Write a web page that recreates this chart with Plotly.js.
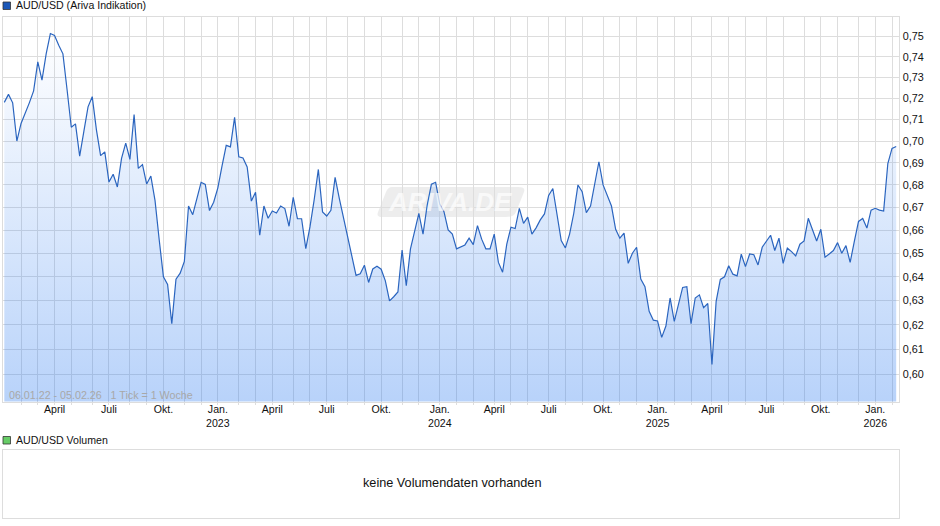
<!DOCTYPE html>
<html>
<head>
<meta charset="utf-8">
<script src="https://cdn.plot.ly/plotly-3.0.1.min.js"></script>
<style>html,body{margin:0;padding:0;background:#fff;overflow:hidden}</style>
</head>
<body>
<div id="chart" style="width:940px;height:526px"></div>
<script>
// Weekly AUD/USD close, first value 2022-01-06, last value 2026-02-05
const firstWeek = '2022-01-06';
const priceValues = [
0.7181,0.7219,0.7179,0.7000,0.7082,0.7129,0.7180,0.7236,0.7376,0.7287,
0.7415,0.7515,0.7505,0.7457,0.7415,0.7240,0.7064,0.7080,0.6931,0.7045,
0.7160,0.7208,0.7052,0.6933,0.6950,0.6813,0.6848,0.6791,0.6920,0.6990,
0.6916,0.7123,0.6875,0.6892,0.6804,0.6840,0.6730,0.6557,0.6400,0.6368,
0.6205,0.6390,0.6415,0.6465,0.6706,0.6668,0.6745,0.6812,0.6802,0.6686,
0.6723,0.6787,0.6886,0.6980,0.6973,0.7110,0.6928,0.6922,0.6881,0.6728,
0.6767,0.6578,0.6706,0.6652,0.6684,0.6675,0.6706,0.6695,0.6617,0.6745,
0.6650,0.6650,0.6520,0.6614,0.6733,0.6870,0.6680,0.6662,0.6687,0.6834,
0.6740,0.6657,0.6561,0.6494,0.6406,0.6413,0.6449,0.6376,0.6433,0.6445,
0.6432,0.6383,0.6299,0.6316,0.6336,0.6514,0.6362,0.6519,0.6594,0.6674,
0.6583,0.6710,0.6803,0.6812,0.6715,0.6681,0.6601,0.6583,0.6519,0.6529,
0.6536,0.6565,0.6537,0.6620,0.6561,0.6519,0.6519,0.6583,0.6461,0.6419,
0.6539,0.6613,0.6607,0.6696,0.6630,0.6657,0.6583,0.6610,0.6645,0.6671,
0.6753,0.6784,0.6674,0.6555,0.6523,0.6583,0.6674,0.6800,0.6770,0.6677,
0.6706,0.6807,0.6905,0.6800,0.6755,0.6706,0.6604,0.6565,0.6587,0.6457,
0.6500,0.6526,0.6390,0.6358,0.6256,0.6219,0.6216,0.6149,0.6195,0.6311,
0.6214,0.6280,0.6355,0.6358,0.6205,0.6311,0.6324,0.6271,0.6288,0.6040,
0.6297,0.6389,0.6400,0.6447,0.6411,0.6404,0.6496,0.6443,0.6497,0.6494,
0.6450,0.6526,0.6551,0.6578,0.6512,0.6565,0.6457,0.6522,0.6507,0.6489,
0.6539,0.6553,0.6652,0.6601,0.6553,0.6604,0.6483,0.6497,0.6512,0.6546,
0.6500,0.6533,0.6461,0.6551,0.6638,0.6651,0.6609,0.6688,0.6696,0.6688,
0.6684,0.6897,0.6966,0.6975
];
const yTicks = [0.60,0.61,0.62,0.63,0.64,0.65,0.66,0.67,0.68,0.69,0.70,0.71,0.72,0.73,0.74,0.75];
const yTickLabels = ['0,60','0,61','0,62','0,63','0,64','0,65','0,66','0,67','0,68','0,69','0,70','0,71','0,72','0,73','0,74','0,75'];
const monthLabels = ['','','April','','','Juli','','','Okt.','','','Jan.<br>2023',
 '','','April','','','Juli','','','Okt.','','','Jan.<br>2024',
 '','','April','','','Juli','','','Okt.','','','Jan.<br>2025',
 '','','April','','','Juli','','','Okt.','','','Jan.<br>2026',''];
const title1 = 'AUD/USD (Ariva Indikation)';
const title2 = 'AUD/USD Volumen';
const rangeNote = '06.01.22 - 05.02.26 &nbsp; 1 Tick = 1 Woche';
const noVolume = 'keine Volumendaten vorhanden';

const DAY = 86400000;
const start = Date.parse(firstWeek + 'T00:00:00Z');
const iso = t => new Date(t).toISOString().slice(0, 10);
const weeks = priceValues.map((_, i) => iso(start + i * 7 * DAY));
// a month grid line sits on the weekly tick nearest to the first of the month
const monthTicks = monthLabels.map((_, i) => {
  const first = Date.UTC(2022, 1 + i, 1);
  const n = Math.round((first - start) / (7 * DAY));
  return iso(start + n * 7 * DAY);
});

const W = 940, H = 526;
const px = x => x / W, py = y => 1 - y / H;
const FONT = '"Liberation Sans", Arial, sans-serif';
const GRID = '#dddddd';

const swatch = (y, color) => ({type:'rect', xref:'paper', yref:'paper',
  x0:px(3), x1:px(10.5), y0:py(y + 7.5), y1:py(y), fillcolor:color,
  line:{color:'#333', width:0.8}});
const label = (text, x, y, size, color, anchor) => ({text, xref:'paper', yref:'paper',
  x:px(x), y:py(y), xanchor:anchor || 'left', yanchor:'middle', showarrow:false,
  borderpad:0, font:{family:FONT, size, color}});

// watermark plate
const wmPath = (() => {
  const c = (x, y) => px(x).toFixed(5) + ',' + py(y).toFixed(5);
  return 'M' + c(392,187) + ' L' + c(518,187) + ' Q' + c(526,187) + ' ' + c(524,192) +
    ' L' + c(516,212) + ' Q' + c(514,217) + ' ' + c(506,217) + ' L' + c(382,217) +
    ' Q' + c(376,217) + ' ' + c(378,212) + ' L' + c(386,192) + ' Q' + c(388,187) + ' ' + c(392,187) + ' Z';
})();

const data = [{
  x: weeks, y: priceValues, type:'scatter', mode:'lines',
  line:{color:'#2b65bf', width:1.2},
  fill:'tozeroy',
  fillgradient:{type:'vertical', start:0.5894, stop:0.752,
    colorscale:[[0,'rgba(40,120,240,0.33)'],[1,'rgba(40,120,240,0.0)']]},
  hoverinfo:'skip', showlegend:false, xaxis:'x', yaxis:'y'
},{
  x:[], y:[], type:'scatter', mode:'lines', hoverinfo:'skip', showlegend:false, xaxis:'x2', yaxis:'y2'
}];

const layout = {
  width:W, height:H, margin:{l:0,r:0,t:0,b:0,pad:0},
  paper_bgcolor:'#fff', plot_bgcolor:'#fff', showlegend:false,
  font:{family:FONT, size:10.6, color:'#111'},
  xaxis:{type:'date', domain:[px(3),px(898.5)], anchor:'y',
    range:['2022-01-03 20:00','2026-02-08 20:00'],
    tickmode:'array', tickvals:monthTicks, ticktext:monthLabels,
    showgrid:true, gridcolor:GRID, gridwidth:1,
    ticks:'outside', ticklen:2, tickcolor:GRID, tickwidth:1, tickangle:0,
    ticklabelstandoff:-4,
    showline:true, linecolor:GRID, linewidth:1, mirror:true, zeroline:false,
    tickfont:{family:FONT, size:10.6, color:'#111'}},
  yaxis:{type:'log', domain:[py(401.5),py(16.5)], anchor:'x', side:'right',
    range:[Math.log10(0.5894),Math.log10(0.76)],
    tickmode:'array', tickvals:yTicks, ticktext:yTickLabels,
    showgrid:true, gridcolor:GRID, gridwidth:1,
    ticks:'outside', ticklen:1, tickcolor:'rgba(0,0,0,0)',
    showline:true, linecolor:GRID, linewidth:1, mirror:true, zeroline:false,
    tickfont:{family:FONT, size:10.8, color:'#111'}},
  xaxis2:{domain:[px(3),px(898.5)], anchor:'y2', range:[0,1], showgrid:false, zeroline:false,
    showticklabels:false, ticks:'', showline:true, linecolor:GRID, linewidth:1, mirror:true},
  yaxis2:{domain:[py(517.5),py(449.5)], anchor:'x2', range:[0,1], showgrid:false, zeroline:false,
    showticklabels:false, ticks:'', showline:true, linecolor:GRID, linewidth:1, mirror:true},
  shapes:[
    swatch(2, '#1a57b8'),
    swatch(436.5, '#66cc66'),
    {type:'path', xref:'paper', yref:'paper', path:wmPath, layer:'below',
     fillcolor:'rgba(190,190,190,0.28)', line:{width:0}}
  ],
  annotations:[
    label(title1, 14.5, 5.5, 10.6, '#111'),
    label(title2, 14.5, 440, 10.6, '#111'),
    label(rangeNote, 7.5, 395, 10.7, '#a8a8a8'),
    label(noVolume, 451.5, 483, 12.7, '#111', 'center'),
    {text:'<b><i>ARIVA.DE</i></b>', xref:'paper', yref:'paper', x:px(450), y:py(202),
     xanchor:'center', yanchor:'middle', showarrow:false, borderpad:0, opacity:0.7,
     font:{family:FONT, size:26, color:'#ffffff'}}
  ]
};

Plotly.newPlot('chart', data, layout, {staticPlot:true, displayModeBar:false});
</script>
</body>
</html>
